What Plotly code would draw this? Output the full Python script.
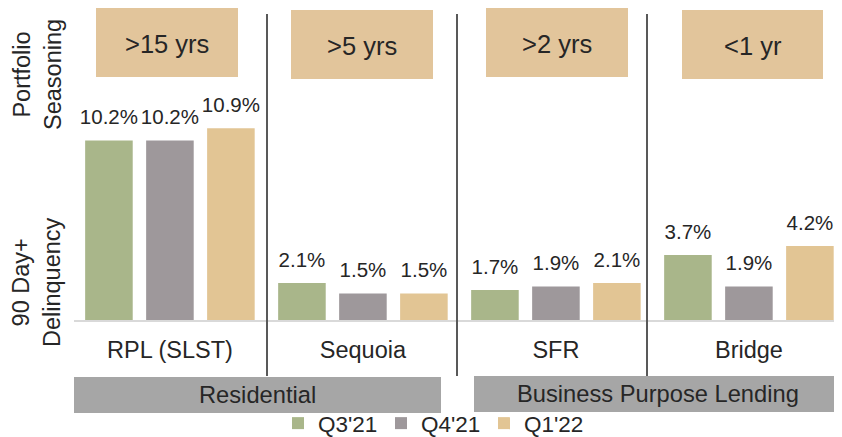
import plotly.graph_objects as go

categories = ["RPL (SLST)", "Sequoia", "SFR", "Bridge"]
seasoning = [">15 yrs", ">5 yrs", ">2 yrs", "<1 yr"]
series_names = ["Q3'21", "Q4'21", "Q1'22"]
q3_21 = [10.2, 2.1, 1.7, 3.7]
q4_21 = [10.2, 1.5, 1.9, 1.9]
q1_22 = [10.9, 1.5, 2.1, 4.2]
segments = ["Residential", "Business Purpose Lending"]

series_values = [q3_21, q4_21, q1_22]
colors = ["#A9B68A", "#9E989B", "#E2C594"]
FONT = "Arial, Liberation Sans, sans-serif"
TXT = "#262626"

OFF = 8  # page body margin
W, H = 842, 470
L, T = 66, 0
PLOT_BOTTOM = 320 - OFF
B = H - PLOT_BOTTOM
R = 0
PW, PH = W - L - R, PLOT_BOTTOM - T

def px_x(px):
    return (px - OFF - L) / PW

def px_y(py):
    return (PLOT_BOTTOM - (py - OFF)) / PH

fig = go.Figure()
for name, vals, col in zip(series_names, series_values, colors):
    fig.add_trace(go.Bar(x=categories, y=vals, name=name, marker_color=col,
                         marker_line_width=0, hoverinfo="skip"))
for name, vals in zip(series_names, series_values):
    fig.add_trace(go.Scatter(x=categories, y=vals, mode="markers+text",
                             text=[f"{v:.1f}%" for v in vals],
                             textposition="top center",
                             textfont=dict(size=20.5, color=TXT, family=FONT),
                             marker=dict(size=16, opacity=0),
                             showlegend=False, hoverinfo="skip", cliponaxis=False))

shapes = []
annotations = []
for px in [267, 457, 647]:
    shapes.append(dict(type="line", xref="paper", yref="paper",
                       x0=px_x(px), x1=px_x(px), y0=px_y(14), y1=px_y(376),
                       line=dict(color="#595959", width=2)))
box_px = [(96, 238, 8, 77), (291, 433, 10, 79), (486, 628, 8, 77), (682, 823, 10, 79)]
for (x0, x1, y0, y1), lab in zip(box_px, seasoning):
    shapes.append(dict(type="rect", xref="paper", yref="paper",
                       x0=px_x(x0), x1=px_x(x1), y0=px_y(y1), y1=px_y(y0),
                       fillcolor="#E2C59B", line=dict(width=0), layer="below"))
    annotations.append(dict(xref="paper", yref="paper", x=px_x((x0 + x1) / 2),
                            y=px_y((y0 + y1) / 2 + 1), text=lab, showarrow=False,
                            font=dict(size=25.5, color=TXT, family=FONT),
                            xanchor="center", yanchor="middle"))
seg_px = [(74, 441, 377, 413), (474, 841, 376, 412)]
for (x0, x1, y0, y1), lab in zip(seg_px, segments):
    shapes.append(dict(type="rect", xref="paper", yref="paper",
                       x0=px_x(x0), x1=px_x(x1), y0=px_y(y1), y1=px_y(y0),
                       fillcolor="#A6A6A6", line=dict(width=0)))
    annotations.append(dict(xref="paper", yref="paper", x=px_x((x0 + x1) / 2),
                            y=px_y((y0 + y1) / 2), text=lab, showarrow=False,
                            font=dict(size=23.7, color=TXT, family=FONT),
                            xanchor="center", yanchor="middle"))
annotations.append(dict(xref="paper", yref="paper", x=px_x(37), y=px_y(75),
                        text="Portfolio<br>Seasoning", textangle=-90, showarrow=False,
                        font=dict(size=23.5, color=TXT, family=FONT), borderpad=0,
                        xanchor="center", yanchor="middle"))
annotations.append(dict(xref="paper", yref="paper", x=px_x(36), y=px_y(282),
                        text="90 Day+<br>Delinquency", textangle=-90, showarrow=False,
                        font=dict(size=23.5, color=TXT, family=FONT), borderpad=0,
                        xanchor="center", yanchor="middle"))

fig.update_layout(
    width=W, height=H, margin=dict(l=L, r=R, t=T, b=B, pad=0),
    paper_bgcolor="white", plot_bgcolor="white",
    barmode="group", bargap=0.052, bargroupgap=0.22,
    scattermode="group", scattergap=0.052,
    showlegend=True,
    legend=dict(orientation="h", x=px_x(318 - 40), xanchor="left", y=px_y(423.5),
                yanchor="middle", font=dict(size=22.5, color=TXT, family=FONT),
                itemwidth=30, entrywidth=58, entrywidthmode="pixels",
                bgcolor="rgba(0,0,0,0)", tracegroupgap=0),
    shapes=shapes, annotations=annotations,
    font=dict(family=FONT, color=TXT),
)
fig.update_xaxes(range=[-0.497, -0.497 + (PW / 193.0)], showline=True, linecolor="#D9D9D9",
                 linewidth=2, showgrid=False, zeroline=False, ticks="",
                 tickfont=dict(size=23.5, color=TXT, family=FONT), ticklabelstandoff=8)
fig.update_yaxes(range=[0, PH / 17.6], visible=False, showgrid=False, zeroline=False)

fig.write_html("out.html")
